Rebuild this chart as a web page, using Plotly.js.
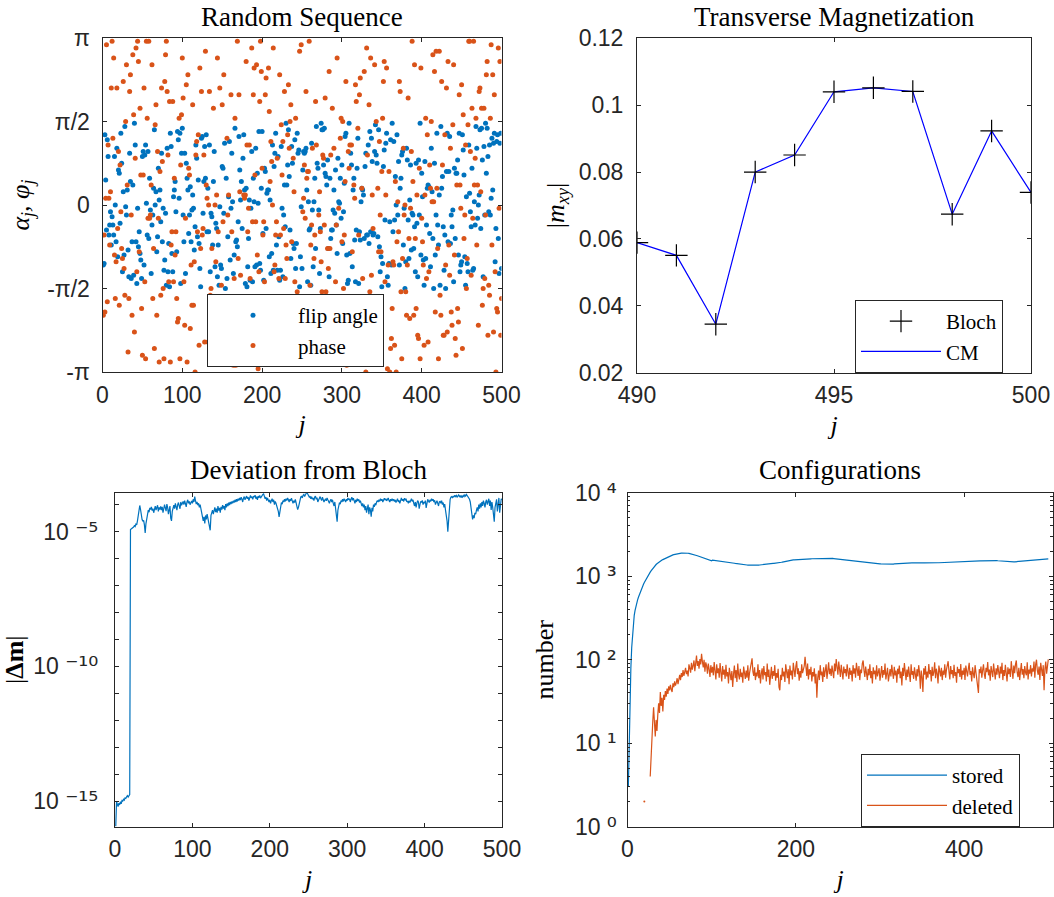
<!DOCTYPE html>
<html><head><meta charset="utf-8">
<script src="https://cdn.plot.ly/plotly-3.0.1.min.js"></script>
<style>html,body{margin:0;padding:0;background:#fff}#chart{width:1054px;height:897px}</style>
</head><body><div id="chart"></div>
<script>
// ---------- Random Sequence (j = 1..500), values in units of π (axis is labelled in π) ----------
const flipAngleOverPi = [
-0.36,-0.35,0.42,0.15,-0.15,0.39,0.29,-0.18,-0.12,-0.04,-0.24,-0.07,-0.12,-0.18,0.29,0.00,-0.22,0.34,-0.31,0.21,0.19,-0.11,0.43,0.25,-0.40,
0.08,-0.30,0.47,-0.01,-0.06,0.09,-0.27,-0.43,0.31,0.14,-0.44,-0.22,0.12,-0.42,0.49,0.36,-0.22,-0.47,-0.02,-0.25,-0.16,-0.29,-0.33,-0.44,0.29,
0.32,-0.36,0.30,0.36,0.01,-0.18,0.32,-0.20,0.16,-0.03,-0.41,-0.12,-0.06,0.10,0.45,0.00,0.08,-0.28,-0.19,0.22,0.03,0.09,-0.10,0.31,-0.22,
-0.02,-0.39,-0.33,-0.05,-0.48,0.34,-0.40,-0.23,-0.49,0.43,0.35,-0.29,-0.40,0.05,0.09,0.14,-0.04,-0.28,0.44,0.39,0.04,0.43,-0.47,0.31,0.46,
-0.06,-0.22,0.31,-0.41,0.25,0.16,0.09,-0.17,-0.06,0.11,-0.22,-0.03,0.06,-0.02,-0.27,-0.13,0.36,0.28,-0.19,0.15,-0.23,-0.38,-0.49,0.40,0.41,
-0.05,0.14,0.35,0.16,0.42,-0.16,0.10,-0.16,0.36,-0.40,-0.05,-0.07,-0.24,0.14,0.32,-0.37,-0.11,-0.14,-0.43,-0.24,-0.48,-0.01,-0.36,-0.38,0.23,
0.22,-0.05,0.37,-0.50,0.16,-0.44,-0.19,0.05,0.38,-0.33,-0.02,0.31,0.02,-0.41,-0.30,0.46,-0.22,-0.21,-0.25,-0.10,0.41,0.21,0.03,0.14,-0.14,
0.28,0.42,0.09,-0.47,0.10,-0.49,-0.37,-0.20,0.03,-0.45,-0.02,0.32,-0.46,0.16,0.02,-0.37,0.34,-0.36,0.19,0.01,0.44,-0.35,-0.39,0.10,0.44,
-0.17,-0.45,0.22,0.20,-0.14,0.07,0.09,0.09,-0.31,0.03,-0.41,-0.29,0.36,-0.39,0.23,0.31,0.43,-0.24,-0.39,0.29,-0.19,-0.45,-0.39,0.35,-0.02,
-0.43,-0.06,0.12,-0.13,0.49,0.12,0.24,0.45,0.17,-0.15,-0.32,0.35,0.25,-0.23,-0.26,0.39,-0.38,-0.23,0.43,0.31,0.33,-0.49,-0.31,-0.01,-0.38,
0.21,0.32,0.31,0.32,0.34,0.09,-0.46,0.02,-0.15,-0.14,-0.48,0.37,-0.03,-0.37,0.02,0.16,-0.26,0.47,0.25,0.22,-0.03,-0.41,-0.14,0.49,0.45,
0.45,0.24,0.46,0.19,0.17,0.12,0.27,-0.26,-0.43,0.16,-0.20,-0.15,-0.15,-0.03,0.09,-0.05,0.21,-0.12,-0.29,0.28,0.02,0.01,0.16,-0.08,0.24,
-0.23,-0.04,0.13,0.41,0.43,-0.30,-0.47,-0.45,0.49,-0.29,0.31,0.24,-0.37,0.09,0.16,-0.21,-0.46,-0.15,0.22,0.40,-0.47,-0.16,-0.21,0.02,0.10,
0.09,0.06,-0.20,0.23,0.31,-0.18,-0.18,0.36,-0.23,0.44,-0.16,0.40,0.26,-0.18,-0.17,0.32,0.48,0.30,0.25,-0.19,0.45,-0.25,-0.40,-0.31,-0.49,
-0.35,0.23,0.33,-0.09,0.37,0.43,-0.43,-0.48,-0.35,-0.10,0.39,-0.36,0.49,-0.16,0.38,-0.09,0.17,0.00,0.42,-0.06,0.26,-0.36,0.10,0.16,0.30,
0.32,-0.24,-0.02,-0.50,-0.34,0.34,0.27,-0.09,-0.32,0.03,0.24,-0.27,-0.05,-0.06,-0.26,-0.13,-0.40,0.25,-0.11,-0.43,0.27,-0.06,0.49,-0.30,0.19,
0.05,-0.33,-0.48,0.26,-0.32,-0.12,0.10,0.12,0.11,-0.17,-0.37,0.34,0.08,-0.20,-0.50,0.25,-0.30,-0.06,0.43,-0.12,-0.24,0.06,-0.48,0.47,0.10,
0.17,-0.13,-0.39,-0.18,-0.50,0.20,0.43,-0.22,0.20,0.41,-0.23,-0.06,-0.13,-0.03,-0.46,0.22,-0.20,0.19,0.19,0.27,-0.30,0.43,-0.40,-0.36,-0.34,
0.42,0.33,0.18,-0.31,-0.48,0.05,-0.35,-0.40,0.36,0.07,-0.04,-0.13,0.22,-0.39,-0.38,0.02,-0.12,0.47,0.34,-0.08,0.00,0.06,0.45,-0.14,0.46,
0.27,-0.43,0.35,-0.06,0.49,0.19,0.46,0.29,-0.04,0.36,-0.06,0.04,0.40,0.09,0.37,0.43,-0.34,-0.14,0.38,0.42,-0.20,-0.41,0.37,0.43,-0.38];
const phaseOverPi = [
-0.66,-0.18,-0.64,0.04,0.96,-0.58,0.36,0.04,-0.24,0.08,0.70,0.98,0.40,0.88,-0.30,-0.56,-0.34,0.70,-0.14,0.32,-0.60,0.24,-0.04,-0.26,-0.32,
0.74,-0.38,-0.54,0.50,0.84,0.12,-0.88,-0.56,0.68,0.78,-0.06,-0.66,0.90,0.54,-0.76,0.28,0.94,-0.40,0.98,0.86,-0.28,0.58,0.18,-0.62,-0.90,
0.18,0.70,-0.46,-0.92,0.98,0.52,-0.08,0.98,-0.08,-0.06,0.12,0.84,-0.56,-0.26,-0.86,0.48,0.60,-0.66,0.32,-0.08,-0.94,0.20,-0.54,0.70,0.26,
-0.50,-0.92,0.74,0.90,0.98,0.68,0.30,-0.46,0.62,-0.94,-0.24,-0.16,0.62,-0.46,0.16,-0.30,-0.16,-0.56,-0.70,-0.68,0.52,-0.92,0.24,0.54,0.88,
0.64,-0.46,-0.72,-0.08,0.72,-0.94,0.78,0.22,0.18,-0.74,-0.36,-0.60,0.60,-0.60,-0.34,-1.00,0.30,0.38,-0.16,0.42,-0.84,0.82,-0.26,0.68,-0.18,
-0.14,0.30,-0.82,0.92,0.12,0.04,-0.82,0.00,0.68,-0.54,-0.50,-0.26,-0.76,0.58,-0.60,0.00,-0.34,0.06,0.88,-0.16,-0.82,0.70,-0.76,-0.48,0.60,
-0.10,0.78,-0.70,-0.68,-0.74,0.40,-0.06,0.06,-0.84,-0.58,0.66,-0.16,-0.74,-0.96,-0.44,0.52,-0.96,-0.66,0.98,-0.32,0.66,0.08,-0.42,-0.80,-0.66,
-0.88,0.06,0.04,0.06,0.86,0.36,-0.16,-0.02,0.36,-0.44,-0.60,0.94,-0.10,0.66,0.82,0.18,-0.10,0.84,-0.30,-0.98,-0.40,0.62,0.98,0.80,0.22,
-0.18,-0.10,-0.46,0.66,0.76,-0.74,-0.92,0.82,0.56,0.14,0.38,0.26,0.00,0.94,-0.40,-0.36,-0.18,-0.10,0.28,-0.80,-0.44,0.78,-0.18,0.48,0.18,
0.38,-0.14,0.68,-0.44,-0.24,-0.32,0.42,0.72,0.34,0.50,0.60,-0.22,-0.76,0.28,0.08,-0.46,0.52,-0.78,-0.52,-0.88,-0.80,0.92,-0.88,0.96,-0.80,
-0.04,0.04,0.24,-0.08,0.68,0.16,0.20,0.20,0.98,-0.48,-0.24,-0.12,0.34,-0.86,-0.32,-0.18,0.62,0.36,-0.70,-0.94,-0.06,0.08,-0.16,-0.34,-0.52,
0.30,0.28,-0.12,0.64,-0.52,-0.74,-0.26,-0.38,0.80,-0.26,0.30,-0.94,0.58,-0.60,0.34,-0.86,-0.46,-0.12,0.88,-0.62,-0.02,-0.76,0.40,0.52,-0.22,
0.50,-0.50,-0.18,0.14,0.74,-0.96,-0.86,0.32,0.22,0.36,-0.94,0.36,-0.28,-0.80,0.12,0.04,0.72,0.62,-0.74,0.46,-0.18,0.66,0.76,-0.72,0.10,
-0.44,-0.94,0.80,-0.60,-1.00,0.94,0.30,-0.56,0.60,-0.52,0.88,-0.42,0.06,-0.14,-0.84,0.84,-0.68,0.50,-0.68,0.10,-0.28,0.38,-0.06,-0.28,0.20,
0.52,0.74,0.86,-0.46,0.06,0.82,-0.98,-0.36,0.20,-1.00,-0.86,-0.80,-0.62,-0.34,-0.36,-0.84,0.14,-1.00,-0.22,0.02,-0.16,0.74,0.68,-0.52,-0.92,
-0.32,0.34,-0.06,0.00,-0.52,-0.66,-0.36,0.64,-0.20,-0.68,-0.02,0.32,0.98,0.14,-0.66,0.84,-0.20,-0.62,0.06,-0.78,-0.80,0.22,-0.92,0.82,-0.08,
-0.22,-0.36,-0.84,0.06,0.52,-0.44,0.42,-0.82,-0.40,0.24,0.10,0.50,0.02,0.90,0.02,0.80,-0.64,0.92,0.10,-0.26,-0.92,0.92,-0.54,-0.66,0.74,
0.24,-0.78,-0.78,0.42,-0.36,0.70,-0.76,0.86,-0.24,-0.42,0.34,-0.64,-0.72,0.48,0.84,-0.30,-0.80,-0.90,0.12,-0.62,-0.70,0.66,0.12,-0.02,0.72,
-0.86,0.54,-0.20,-0.06,0.36,-0.50,-0.32,0.48,0.98,0.98,0.32,-0.42,0.58,-0.08,0.98,0.12,0.28,0.52,-0.24,0.12,-0.72,0.68,0.70,0.08,0.58,
-0.60,-0.50,0.58,-0.44,-0.06,0.78,0.86,-0.78,-0.48,-0.54,0.52,0.96,-0.24,0.78,-0.76,0.66,-0.40,-1.00,-0.62,-0.64,0.94,-0.02,0.86,-0.78,-0.56];

// ---------- Transverse Magnetization ----------
const transJ = [490,491,492,493,494,495,496,497,498,499,500];
const blochMxy = [0.0589,0.0551,0.0345,0.0800,0.0851,0.1040,0.1052,0.1041,0.0674,0.0923,0.0739];
const cmMxy    = [0.0589,0.0551,0.0345,0.0800,0.0851,0.1040,0.1052,0.1041,0.0674,0.0923,0.0739];

// ---------- Deviation from Bloch: log10 |Δm| (j = 1..500) ----------
const deviationLog10 = [
-15.93,-15.0,-15.12,-15.2,-15.08,-15.14,-15.02,-15.1,-14.98,-15.0,-14.93,-14.96,-14.88,-14.9,-14.84,-14.8,-14.85,-14.78,-14.76,
-4.92,-4.9,-4.87,-4.85,-4.83,-4.78,-4.81,-4.72,-4.75,-4.6,-4.45,-4.22,-4.03,-4.18,-4.4,-4.55,-4.62,-4.58,-4.75,-5.05,
-4.7,-4.55,-4.35,-4.2,-4.28,-4.12,-4.18,-4.08,-4.22,-4.15,-4.3,-4.1,-4.05,-4.2,-4.14,-4.02,-4.25,-4.1,-4.18,-4.06,
-4.2,-4.08,-4.3,-4.15,-4.0,-4.12,-4.24,-3.98,-4.1,-4.35,-4.18,-4.05,-4.5,-4.6,-4.25,-4.1,-4.02,-4.15,-3.95,-4.08,
-4.2,-4.0,-3.92,-4.05,-4.15,-3.9,-4.02,-3.95,-3.88,-4.0,-3.85,-3.96,-4.08,-3.9,-3.82,-3.95,-3.88,-4.0,-3.92,-3.86,
-3.95,-3.8,-3.9,-3.7,-3.85,-3.98,-3.9,-4.02,-3.95,-4.1,-4.0,-4.15,-4.25,-4.4,-4.6,-4.45,-4.7,-4.4,-4.55,-4.35,
-4.5,-4.6,-4.75,-4.95,-4.4,-4.3,-4.2,-4.35,-4.25,-4.1,-4.28,-4.15,-4.3,-4.05,-4.22,-4.12,-4.3,-4.08,-4.18,-4.02,
-4.15,-4.05,-4.2,-3.98,-4.1,-3.95,-4.05,-3.92,-4.02,-3.9,-3.98,-3.88,-3.95,-3.85,-3.92,-3.82,-3.9,-3.8,-3.88,-3.78,
-3.85,-3.75,-3.83,-3.72,-3.8,-3.9,-3.76,-3.7,-3.82,-3.74,-3.68,-3.78,-3.72,-3.85,-3.7,-3.66,-3.75,-3.7,-3.8,-3.68,
-3.72,-3.65,-3.78,-3.7,-3.82,-3.68,-3.74,-3.66,-3.76,-3.7,-3.64,-3.62,-3.6,-3.7,-3.78,-3.72,-3.85,-3.75,-3.8,-3.9,
-3.82,-3.95,-3.85,-3.78,-3.9,-3.82,-4.0,-3.88,-3.95,-4.05,-4.15,-4.25,-4.45,-4.2,-4.05,-3.92,-3.98,-3.85,-3.9,-3.8,
-3.88,-3.78,-3.85,-3.75,-3.82,-3.9,-3.8,-3.86,-3.76,-3.84,-3.95,-3.85,-3.92,-3.8,-3.9,-4.05,-4.18,-4.1,-3.95,-3.8,
-3.72,-3.68,-3.75,-3.65,-3.62,-3.7,-3.6,-3.58,-3.55,-3.62,-3.66,-3.72,-3.68,-3.78,-3.7,-3.8,-3.75,-3.85,-3.72,-3.68,
-3.8,-3.74,-3.9,-3.82,-3.76,-3.7,-3.78,-3.85,-3.72,-3.8,-3.9,-3.84,-3.78,-3.86,-3.75,-3.82,-3.9,-3.95,-3.85,-3.8,
-3.9,-3.82,-3.95,-4.05,-3.9,-4.1,-4.3,-4.63,-4.2,-4.0,-3.92,-3.98,-3.85,-3.9,-3.8,-3.88,-3.78,-3.84,-3.9,-3.8,
-3.85,-3.75,-3.82,-3.78,-3.9,-3.8,-3.72,-3.84,-3.76,-3.85,-3.95,-3.82,-3.9,-3.78,-3.86,-3.8,-3.92,-3.85,-3.95,-4.05,
-3.95,-4.1,-4.0,-4.2,-4.05,-4.3,-4.15,-4.0,-4.35,-4.1,-4.2,-4.45,-4.12,-4.25,-4.0,-4.08,-3.95,-4.02,-3.9,-3.85,
-3.9,-3.82,-3.88,-3.78,-3.85,-3.8,-3.9,-3.84,-3.76,-3.82,-3.78,-3.86,-3.8,-3.75,-3.85,-3.9,-3.8,-3.86,-3.78,-3.84,
-3.8,-3.88,-3.82,-3.92,-3.85,-3.78,-3.9,-3.84,-3.95,-3.82,-3.75,-3.85,-3.8,-3.88,-3.76,-3.82,-3.78,-3.9,-3.86,-3.95,
-3.85,-3.92,-3.82,-3.78,-3.88,-3.82,-3.95,-4.05,-3.9,-4.1,-3.95,-3.85,-3.9,-4.15,-4.0,-3.88,-3.92,-3.84,-4.0,-3.9,
-3.95,-3.85,-4.12,-3.9,-3.8,-3.86,-3.92,-3.82,-3.88,-3.78,-3.85,-3.8,-3.9,-3.84,-4.0,-3.92,-3.85,-3.95,-4.05,-3.9,
-3.88,-3.95,-3.85,-4.0,-3.92,-4.1,-3.98,-4.2,-4.35,-4.6,-5.0,-4.5,-4.05,-3.8,-3.72,-3.7,-3.75,-3.68,-3.72,-3.65,
-3.7,-3.66,-3.72,-3.68,-3.64,-3.7,-3.66,-3.74,-3.68,-3.72,-3.66,-3.7,-3.64,-3.68,-3.62,-3.66,-3.7,-3.75,-3.8,-3.9,
-4.1,-4.45,-4.55,-4.4,-4.5,-4.3,-4.35,-4.2,-4.1,-4.25,-4.0,-4.15,-3.95,-4.1,-3.9,-4.05,-3.85,-3.95,-4.1,-3.9,
-3.82,-4.0,-3.88,-3.78,-4.05,-3.85,-4.2,-3.9,-4.1,-4.35,-4.63,-4.1,-3.95,-3.8,-4.25,-3.85,-3.75,-4.3,-3.9,-3.78,-3.82];

// ---------- Configurations (j = 1..500) ----------
const storedConfigs = [
3,12,35,80,140,210,280,340,390,440,480,520,560,600,640,680,720,760,800,840,
880,920,960,1000,1040,1080,1120,1160,1200,1240,1290,1320,1350,1380,1410,1440,1470,1500,1520,1540,
1560,1580,1600,1620,1640,1660,1680,1700,1720,1740,1755,1770,1785,1800,1812,1824,1836,1846,1855,1864,
1872,1879,1885,1890,1894,1897,1899,1900,1898,1895,1890,1884,1877,1869,1860,1850,1839,1827,1814,1800,
1786,1771,1756,1740,1724,1708,1692,1676,1660,1645,1630,1616,1602,1590,1578,1567,1557,1548,1540,1533,
1560,1555,1552,1550,1548,1545,1544,1542,1540,1538,1536,1532,1526,1520,1512,1504,1496,1488,1480,1472,
1465,1458,1452,1446,1440,1434,1428,1422,1416,1410,1404,1399,1394,1389,1385,1381,1377,1373,1370,1367,
1364,1362,1360,1358,1356,1354,1352,1351,1350,1349,1348,1348,1349,1351,1354,1358,1362,1367,1372,1378,
1384,1390,1396,1401,1405,1408,1410,1412,1414,1416,1418,1420,1422,1424,1426,1428,1430,1434,1440,1446,
1452,1460,1468,1476,1485,1494,1503,1512,1520,1528,1535,1542,1548,1553,1558,1562,1566,1570,1574,1577,
1580,1583,1586,1589,1592,1594,1596,1598,1600,1602,1604,1606,1608,1610,1612,1613,1614,1616,1618,1620,
1622,1624,1626,1627,1628,1630,1631,1632,1633,1634,1636,1637,1638,1639,1640,1640,1641,1641,1642,1642,
1641,1639,1636,1632,1627,1622,1617,1612,1608,1604,1601,1598,1596,1594,1592,1590,1588,1586,1583,1580,
1576,1572,1567,1562,1556,1550,1544,1538,1532,1526,1520,1514,1508,1502,1497,1492,1487,1482,1477,1472,
1467,1462,1458,1454,1450,1446,1442,1438,1434,1430,1427,1424,1421,1418,1415,1412,1410,1408,1406,1404,
1402,1400,1398,1397,1396,1395,1394,1394,1393,1393,1392,1392,1393,1394,1396,1398,1401,1404,1408,1412,
1416,1420,1424,1428,1431,1434,1437,1440,1442,1444,1446,1448,1449,1450,1450,1449,1447,1445,1443,1441,
1439,1437,1436,1435,1434,1434,1435,1436,1438,1440,1442,1444,1446,1448,1450,1452,1454,1455,1456,1457,
1457,1456,1455,1454,1453,1452,1451,1450,1450,1450,1451,1452,1454,1456,1458,1460,1461,1462,1462,1461,
1460,1458,1456,1454,1453,1452,1452,1453,1455,1457,1460,1463,1466,1469,1472,1475,1478,1480,1482,1484,
1486,1488,1490,1492,1494,1496,1498,1500,1502,1504,1506,1508,1510,1512,1514,1516,1518,1520,1522,1524,
1526,1528,1530,1532,1534,1536,1538,1540,1542,1544,1546,1548,1549,1550,1549,1547,1544,1540,1536,1532,
1528,1524,1520,1516,1512,1508,1504,1500,1496,1492,1489,1486,1484,1482,1481,1480,1480,1481,1483,1486,
1489,1492,1496,1500,1504,1508,1512,1516,1520,1524,1528,1532,1536,1540,1544,1548,1552,1556,1560,1564,
1568,1572,1575,1578,1581,1584,1586,1588,1590,1592,1594,1596,1598,1600,1602,1604,1606,1607,1608,1610];
const deletedConfigs = [
null,null,null,null,null,null,null,null,null,null,null,null,null,null,null,null,null,null,null,
2,null,null,null,null,null,null,
4,8,11,18,27,15,12,19,14,22,30,23,41,28,35,24,38,33,42,36,45,39,48,43,50,44,41,52,47,55,
49,53,60,51,58,66,57,69,62,75,64,71,80,67,74,63,88,79,70,92,76,85,98,73,
90,112,84,96,78,102,88,118,95,81,100,72,93,85,68,90,77,62,86,70,
82,65,94,74,58,88,69,79,61,91,72,55,84,66,76,59,87,63,71,52,
80,64,57,73,47,68,85,60,75,54,90,66,58,78,62,70,53,83,67,59,
74,61,86,56,69,77,92,104,72,64,81,57,70,63,88,60,75,52,68,79,
58,84,65,71,55,90,62,76,50,67,82,59,73,64,86,56,69,61,78,47,
43,66,57,80,63,72,54,88,68,60,77,51,85,65,74,58,92,70,62,83,
96,67,79,56,73,61,88,69,75,84,108,72,64,90,58,77,66,82,55,71,
63,79,52,68,35,60,74,57,86,65,72,54,81,62,70,88,59,76,93,67,
78,64,85,71,60,90,73,102,82,66,95,70,62,87,75,58,83,69,77,63,
88,72,59,80,66,74,55,86,68,79,61,92,71,64,84,57,76,69,90,98,
75,62,83,70,57,78,65,88,60,73,52,81,67,74,58,86,63,71,79,56,
69,84,61,75,66,90,58,72,80,55,68,77,63,87,70,59,82,65,74,53,
78,67,85,60,72,49,80,64,91,69,57,76,62,83,71,54,88,66,73,59,
81,68,56,77,63,86,70,45,74,62,41,79,66,84,58,72,61,89,67,75,
55,82,64,71,93,60,78,68,52,85,70,63,80,57,74,66,88,61,76,90,
96,72,58,84,67,75,60,87,64,71,53,82,69,77,62,89,58,74,66,80,
57,85,70,63,78,92,66,73,55,81,68,60,86,72,64,50,40,77,69,83,
61,75,88,67,59,80,71,94,65,76,56,84,69,62,90,73,58,79,66,86,
72,60,83,68,92,57,75,64,87,70,55,81,67,78,62,96,73,59,85,69,
88,98,71,62,80,57,74,91,66,77,60,84,70,65,93,58,76,68,86,63,
79,72,95,61,88,100,74,66,83,57,92,70,64,86,43,78,95,68,82,101];

// ---------- tick labels ----------
const piTickVals = [-Math.PI, -Math.PI/2, 0, Math.PI/2, Math.PI];
const piTickText = ['-π', '-π/2', '0', 'π/2', 'π'];
const devTickExp = [-15, -10, -5];
const devTickSup = ['⁻¹⁵', '⁻¹⁰', '⁻⁵'];
const devMinorExp = [-15,-14,-13,-12,-11,-10,-9,-8,-7,-6,-5,-4];
const cfgTickExp = [0, 1, 2, 3, 4];
const cfgTickSup = ['⁰', '¹', '²', '³', '⁴'];

// ---------- derived ----------
const SUP_STYLE = 'font-family:DejaVu Sans;font-size:25px';
const supLabel = s => '10 <span style="' + SUP_STYLE + '">' + s + '</span>';
const flipAngle = flipAngleOverPi.map(v => v * Math.PI);
const phase = phaseOverPi.map(v => v * Math.PI);
const jSeq = flipAngle.map((_, i) => i + 1);
const jDev = deviationLog10.map((_, i) => i + 1);
const deviation = deviationLog10.map(v => Math.pow(10, v));
const jCfg = storedConfigs.map((_, i) => i + 1);
const isoX = [], isoY = [];
deletedConfigs.forEach((v, i) => {
  if (v !== null && deletedConfigs[i-1] == null && deletedConfigs[i+1] == null) { isoX.push(i+1); isoY.push(v); }
});
const devTickVals = devTickExp.map(e => Math.pow(10, e));
const devTickText = devTickSup.map(supLabel);
const devMinor = devMinorExp.map(e => Math.pow(10, e));
const cfgTickVals = cfgTickExp.map(e => Math.pow(10, e));
const cfgTickText = cfgTickSup.map(supLabel);
const cfgMinor = [];
for (let e = 0; e < 4; e++) for (let m = 2; m <= 9; m++) cfgMinor.push(m * Math.pow(10, e));

const BLUE = '#0072BD', ORANGE = '#D95319', AX = '#262626';
const W = 1054, H = 897;
const px = v => v / W, py = v => 1 - v / H;
const SERIF = 'Liberation Serif, Times New Roman, serif';
const SANS = 'Liberation Sans, Arial, sans-serif';
const LABEL_FONT = {family: SERIF, size: 26, color: '#000'};

const axBase = {
  showline: true, linecolor: AX, linewidth: 1, mirror: 'ticks',
  ticks: 'inside', ticklen: 4, tickcolor: AX, tickwidth: 1,
  showgrid: false, zeroline: false, fixedrange: true, automargin: false,
  tickfont: {family: SANS, size: 23, color: AX}
};
const xTitle = s => ({text: '<i>j</i>', font: LABEL_FONT, standoff: s});

const traces = [
  {x: jSeq, y: flipAngle, name: 'flip angle', type: 'scatter', mode: 'markers',
   marker: {color: BLUE, size: 5}, xaxis: 'x', yaxis: 'y', legend: 'legend'},
  {x: jSeq, y: phase, name: 'phase', type: 'scatter', mode: 'markers',
   marker: {color: ORANGE, size: 5}, xaxis: 'x', yaxis: 'y', legend: 'legend'},
  {x: transJ, y: cmMxy, name: 'CM', type: 'scatter', mode: 'lines',
   line: {color: '#0000FF', width: 1.2}, xaxis: 'x2', yaxis: 'y2', legend: 'legend2', legendrank: 2},
  {x: transJ, y: blochMxy, name: 'Bloch', type: 'scatter', mode: 'markers',
   marker: {symbol: 'cross-thin', size: 16, color: '#000', line: {color: '#000', width: 1.2}},
   xaxis: 'x2', yaxis: 'y2', legend: 'legend2', legendrank: 1},
  {x: jDev, y: deviation, name: '|Δm|', type: 'scatter', mode: 'lines',
   line: {color: BLUE, width: 1.2}, xaxis: 'x3', yaxis: 'y3', showlegend: false},
  {x: jCfg, y: storedConfigs, name: 'stored', type: 'scatter', mode: 'lines',
   line: {color: BLUE, width: 1.2}, xaxis: 'x4', yaxis: 'y4', legend: 'legend3'},
  {x: jCfg, y: deletedConfigs, name: 'deleted', type: 'scatter', mode: 'lines', connectgaps: false,
   line: {color: ORANGE, width: 1.2}, xaxis: 'x4', yaxis: 'y4', legend: 'legend3'},
  {x: isoX, y: isoY, type: 'scatter', mode: 'markers', marker: {color: ORANGE, size: 2},
   xaxis: 'x4', yaxis: 'y4', showlegend: false}
];

const legBase = {
  xanchor: 'left', yanchor: 'top', bgcolor: '#fff', bordercolor: AX, borderwidth: 1,
  font: {family: SERIF, size: 21, color: '#000'}, itemwidth: 80, tracegroupgap: 0
};

const ann = (text, x, y) => ({
  text: text, x: x, y: y, xref: 'paper', yref: 'paper', showarrow: false,
  xanchor: 'center', yanchor: 'middle', font: {family: SERIF, size: 27, color: '#000'}
});

const layout = {
  width: W, height: H, margin: {l: 0, r: 0, t: 0, b: 0},
  paper_bgcolor: '#fff', plot_bgcolor: '#fff', showlegend: true,
  font: {family: SANS, size: 23, color: AX},
  xaxis: Object.assign({}, axBase, {domain: [px(102.5), px(501.5)], range: [0, 500],
    tickvals: [0,100,200,300,400,500], anchor: 'y', ticklabelstandoff: 2, title: xTitle(8)}),
  yaxis: Object.assign({}, axBase, {domain: [py(372), py(38)], range: [-Math.PI, Math.PI],
    tickvals: piTickVals, ticktext: piTickText, anchor: 'x', ticklabelstandoff: 7,
    title: {text: '<i>α</i><sub><i>j</i></sub><i>, φ</i><sub><i>j</i></sub>', font: LABEL_FONT, standoff: 10}}),
  xaxis2: Object.assign({}, axBase, {domain: [px(637), px(1031)], range: [490, 500],
    tickvals: [490, 495, 500], anchor: 'y2', ticklabelstandoff: 2, title: xTitle(8)}),
  yaxis2: Object.assign({}, axBase, {domain: [py(372.7), py(38.3)], range: [0.02, 0.12],
    tickvals: [0.02,0.04,0.06,0.08,0.1,0.12], ticktext: ['0.02','0.04','0.06','0.08','0.1','0.12'],
    anchor: 'x2', ticklabelstandoff: 8,
    title: {text: '|<i>m</i><sub><i>xy</i></sub>|', font: LABEL_FONT, standoff: 6}}),
  xaxis3: Object.assign({}, axBase, {domain: [px(115), px(502)], range: [0, 500],
    tickvals: [0,100,200,300,400,500], anchor: 'y3', ticklabelstandoff: 2, title: xTitle(8)}),
  yaxis3: Object.assign({}, axBase, {type: 'log', domain: [py(826.7), py(492.7)], range: [-15.95, -3.556],
    tickvals: devTickVals, ticktext: devTickText, anchor: 'x3', ticklabelstandoff: 11,
    minor: {tickvals: devMinor, ticks: 'inside', ticklen: 4, tickcolor: AX, showgrid: false},
    title: {text: '|<b>Δm</b>|', font: LABEL_FONT, standoff: 18}}),
  xaxis4: Object.assign({}, axBase, {domain: [px(627.5), px(1052.5)], range: [0, 505],
    tickvals: [0, 200, 400], anchor: 'y4', ticklabelstandoff: 2, title: xTitle(8)}),
  yaxis4: Object.assign({}, axBase, {type: 'log', domain: [py(826.7), py(492.7)], range: [0, 4],
    tickvals: cfgTickVals, ticktext: cfgTickText, anchor: 'x4', ticklabelstandoff: 5,
    minor: {tickvals: cfgMinor, ticks: 'inside', ticklen: 2.5, tickcolor: AX, showgrid: false},
    title: {text: 'number', font: LABEL_FONT, standoff: 13}}),
  legend: Object.assign({}, legBase, {x: px(207), y: py(294)}),
  legend2: Object.assign({}, legBase, {x: px(855), y: py(300)}),
  legend3: Object.assign({}, legBase, {x: px(861), y: py(754)}),
  annotations: [
    ann('Random Sequence', px(302), py(17)),
    ann('Transverse Magnetization', px(834), py(17)),
    ann('Deviation from Bloch', px(308.5), py(470)),
    ann('Configurations', px(840), py(470))
  ]
};

Plotly.newPlot('chart', traces, layout, {staticPlot: true, displayModeBar: false});
</script></body></html>
